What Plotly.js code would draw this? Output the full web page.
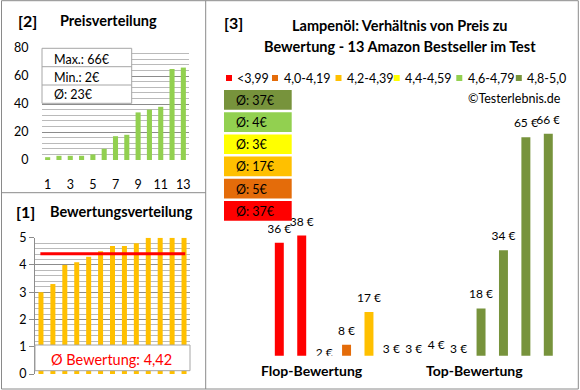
<!DOCTYPE html>
<html>
<head>
<meta charset="utf-8">
<script src="https://cdn.plot.ly/plotly-3.0.1.min.js"></script>
<style>html,body{margin:0;padding:0;background:#fff}#chart{width:580px;height:390px}</style>
</head>
<body>
<div id="chart"></div>
<script>
// ---- data ----
const products = [1,2,3,4,5,6,7,8,9,10,11,12,13];
const prices = [36, 38, 2, 8, 17, 3, 3, 4, 3, 18, 34, 65, 66];
const ratings = [3.0, 3.3, 4.0, 4.1, 4.3, 4.5, 4.7, 4.7, 4.8, 5.0, 5.0, 5.0, 5.0];
const binLabels = ['<3,99', '4,0-4,19', '4,2-4,39', '4,4-4,59', '4,6-4,79', '4,8-5,0'];
const binLower = [0, 4.0, 4.2, 4.4, 4.6, 4.8];
const binColors = ['#FF0000', '#E46C0A', '#FFC000', '#FFFF00', '#92D050', '#77933C'];
const groupLabels = ['Flop-Bewertung', 'Top-Bewertung'];
const priceTicks = [1, 3, 5, 7, 9, 11, 13];

// ---- derived ----
const sortedPrices = prices.slice().sort((a, b) => a - b);
const maxP = Math.max(...prices), minP = Math.min(...prices);
const avgP = prices.reduce((a, b) => a + b, 0) / prices.length;
const avgR = ratings.reduce((a, b) => a + b, 0) / ratings.length;
const binOf = r => { let k = 0; binLower.forEach((l, i) => { if (r >= l - 1e-9) k = i; }); return k; };
const barColors = ratings.map(r => binColors[binOf(r)]);
const binAvg = binLower.map((_, i) => {
  const v = prices.filter((p, j) => binOf(ratings[j]) === i);
  return v.reduce((a, b) => a + b, 0) / v.length;
});

// ---- helpers ----
const W = 580, H = 390;
const X = px => px / W, Y = py => 1 - py / H;
const FONT = 'Lato, "Open Sans", sans-serif';
const GRID = '#8c8c8c', MINOR = '#bababa', BORDER = '#8a8a8a';
const ann = (text, x, y, size, o = {}) => Object.assign({
  text, xref: 'paper', yref: 'paper', x: X(x), y: Y(y), showarrow: false,
  xanchor: 'center', yanchor: 'middle', font: {family: FONT, size, color: '#000'}
}, o);
const rect = (x0, y0, x1, y1, o = {}) => Object.assign({
  type: 'rect', xref: 'paper', yref: 'paper', x0: X(x0), x1: X(x1), y0: Y(y1), y1: Y(y0),
  line: {color: BORDER, width: 1}, fillcolor: 'rgba(0,0,0,0)', layer: 'above'
}, o);
const line = (x0, y0, x1, y1, o = {}) => Object.assign({
  type: 'line', xref: 'paper', yref: 'paper', x0: X(x0), x1: X(x1), y0: Y(y0), y1: Y(y1),
  line: {color: BORDER, width: 1}, layer: 'above'
}, o);

// ---- panel 3 scale ----
const p3Base = 355.7, p3Scale = 3.64, p3Min = 5, p3Max = 80;
const p3Top = p3Base - (p3Max - p3Min) * p3Scale;
const labelOffset = 13 / p3Scale;

const traces = [
  // [2] Preisverteilung
  {type: 'bar', x: products, y: sortedPrices, xaxis: 'x', yaxis: 'y', width: 0.45,
   marker: {color: '#92D050'}, hoverinfo: 'skip'},
  // [1] Bewertungsverteilung
  {type: 'bar', x: products, y: ratings, xaxis: 'x2', yaxis: 'y2', width: 0.42,
   marker: {color: '#FFC000'}, hoverinfo: 'skip'},
  // [3] price vs rating
  {type: 'bar', x: products.map((_, i) => i), y: prices, xaxis: 'x3', yaxis: 'y3',
   marker: {color: barColors}, hoverinfo: 'skip', width: 0.4},
  {type: 'scatter', mode: 'text', x: products.map((_, i) => i),
   y: prices.map(p => p + labelOffset), text: prices.map(p => p + ' €'),
   textposition: 'middle center', textfont: {family: FONT, size: 12, color: '#000'},
   xaxis: 'x3', yaxis: 'y3', cliponaxis: true, hoverinfo: 'skip'}
];

const annotations = [
  ann('<b>[2]</b>', 27.5, 20, 16),
  ann('<b>Preisverteilung</b>', 58, 20, 14.5, {xanchor: 'left'}),
  ann('<b>[1]</b>', 25, 211.5, 16),
  ann('<b>Bewertungsverteilung</b>', 47.5, 211.5, 14.5, {xanchor: 'left'}),
  ann('<b>[3]</b>', 233, 22, 16),
  ann('<b>Lampenöl: Verhältnis von Preis zu</b>', 400, 26, 14.5),
  ann('<b>Bewertung - 13 Amazon Bestseller im Test</b>', 400, 46, 14.5),
  ann('©Testerlebnis.de', 563, 98, 12.5, {xanchor: 'right'}),
  ann('Max.: ' + maxP + '€', 52, 59.5, 12.5, {xanchor: 'left'}),
  ann('Min.: ' + minP + '€', 52, 77.5, 12.5, {xanchor: 'left'}),
  ann('Ø: ' + Math.round(avgP) + '€', 52, 94.5, 12.5, {xanchor: 'left'}),
  ann('Ø Bewertung: ' + avgR.toFixed(2).replace('.', ','), 111, 359, 14.5,
      {font: {family: FONT, size: 14.5, color: '#FF0000'}}),
  ann('<b>' + groupLabels[0] + '</b>', 312, 370, 14),
  ann('<b>' + groupLabels[1] + '</b>', 474, 370, 14)
];

const shapes = [
  // panel borders
  rect(1.5, 0.7, 578.3, 389),
  line(205.7, 0.7, 205.7, 389),
  line(1.5, 192.7, 205.7, 192.7),
  // stats box in [2]
  rect(42, 48.3, 131.7, 103.3, {fillcolor: '#fff', line: {color: '#a6a6a6', width: 1}}),
  line(42, 66.7, 131.7, 66.7, {line: {color: '#a6a6a6', width: 1}}),
  line(42, 85, 131.7, 85, {line: {color: '#a6a6a6', width: 1}}),
  // average line in [1]
  {type: 'line', xref: 'x2', yref: 'y2', x0: 0.95, x1: 13.1, y0: avgR, y1: avgR,
   line: {color: '#FF0000', width: 3}, layer: 'above'},
  // average box in [1]
  rect(35, 345, 190, 370.7, {fillcolor: '#fff', line: {color: '#a6a6a6', width: 1}})
];

// legend of [3]
const legSq = [229, 275, 338.5, 396.7, 459.3, 518.8];
const legTx = [235, 281.5, 345, 403, 465.5, 525];
binLabels.forEach((lab, i) => {
  shapes.push(rect(legSq[i] - 3, 75, legSq[i] + 3, 81, {fillcolor: binColors[i], line: {width: 0}}));
  annotations.push(ann(lab, legTx[i], 78.3, 12.5, {xanchor: 'left'}));
});
// Ø boxes of [3], top = best bin
const boxTop = 90, boxStep = 22.2, boxH = 19.7;
binColors.slice().reverse().forEach((c, k) => {
  const i = binColors.length - 1 - k;
  const y0 = boxTop + k * boxStep;
  shapes.push(rect(224, y0, 291.7, y0 + boxH, {fillcolor: c, line: {width: 0}}));
  annotations.push(ann('Ø: ' + Math.round(binAvg[i]) + '€', 234, y0 + boxH / 2 + 0.5, 12.5, {xanchor: 'left'}));
});

const tickFont = {family: FONT, size: 12.5, color: '#000'};
const layout = {
  width: W, height: H, margin: {l: 0, r: 0, t: 0, b: 0},
  paper_bgcolor: '#fff', plot_bgcolor: 'rgba(0,0,0,0)',
  showlegend: false, hovermode: false,
  font: {family: FONT},
  xaxis: {domain: [X(42), X(189)], anchor: 'y', range: [0.5, 13.5], tickvals: priceTicks,
          ticks: 'outside', ticklen: 13, tickcolor: 'rgba(0,0,0,0)', showgrid: false,
          zeroline: false, showline: false, tickfont: tickFont},
  yaxis: {domain: [Y(160), Y(48)], anchor: 'x', range: [0, 80], dtick: 20,
          ticks: 'outside', ticklen: 10, tickcolor: 'rgba(0,0,0,0)',
          gridcolor: GRID, zeroline: false, showline: false, tickfont: tickFont,
          minor: {dtick: 4, showgrid: true, gridcolor: MINOR}},
  xaxis2: {domain: [X(35), X(190)], anchor: 'y2', range: [0.5, 13.5], showticklabels: false,
           ticks: '', showgrid: false, zeroline: false, showline: false},
  yaxis2: {domain: [Y(374), Y(237.7)], anchor: 'x2', range: [0, 5], dtick: 1,
           ticks: 'outside', ticklen: 5, tickcolor: GRID, showline: true, linecolor: GRID,
           gridcolor: GRID, zeroline: false, tickfont: tickFont,
           minor: {dtick: 0.2, showgrid: true, gridcolor: MINOR}},
  xaxis3: {domain: [X(268.1), X(559.5)], anchor: 'y3', range: [-0.5, 12.5], visible: false},
  yaxis3: {domain: [Y(p3Base), Y(p3Top)], anchor: 'x3', range: [p3Min, p3Max], visible: false},
  shapes, annotations
};

Plotly.newPlot('chart', traces, layout, {staticPlot: true, displayModeBar: false});
</script>
</body>
</html>
